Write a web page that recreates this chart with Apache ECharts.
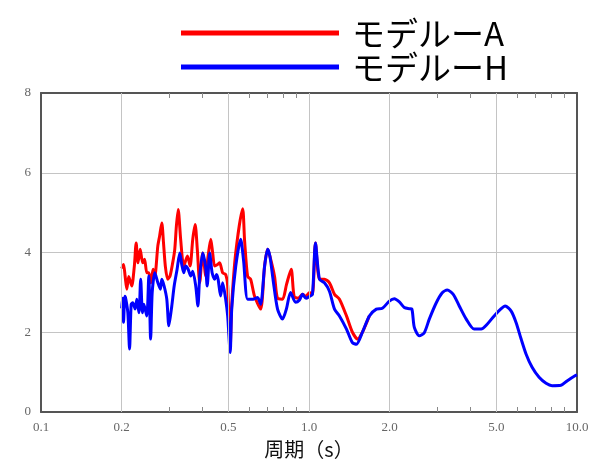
<!DOCTYPE html>
<html>
<head>
<meta charset="utf-8">
<script src="https://cdn.jsdelivr.net/npm/echarts@6/dist/echarts.min.js"></script>
<style>html,body{margin:0;padding:0;background:#fff;}#c{width:589px;height:463px;}</style>
</head>
<body>
<div id="c"></div>
<script>
// ---- data ----
const seriesNames = ['モデルーA', 'モデルーH'];
const periodsA = [0.200,0.2032,0.2060,0.2090,0.2125,0.2180,0.2230,0.2265,0.2300,0.2345,0.2395,0.2435,0.2482,0.2525,0.2569,0.2620,0.2659,0.2728,0.2770,0.2823,0.2865,0.2910,0.2970,0.3030,0.3100,0.3156,0.3200,0.3250,0.3320,0.3409,0.3520,0.3600,0.3683,0.3760,0.3830,0.3910,0.4012,0.4120,0.4200,0.4300,0.4371,0.4446,0.4560,0.4642,0.4763,0.4887,0.4972,0.5080,0.5150,0.5330,0.5654,0.5750,0.5902,0.6055,0.6266,0.6597,0.6829,0.7006,0.7150,0.7438,0.7632,0.7965,0.8245,0.8580,0.8800,0.9100,0.9458,0.975,1.004,1.030,1.057,1.094,1.142,1.192,1.245,1.299,1.380,1.452,1.520,1.582,1.680];
const valuesA = [3.6,3.7,3.41,3.08,3.4,3.16,3.66,4.24,3.74,4.08,3.74,3.83,3.49,3.49,3.24,3.58,3.41,4.16,4.41,4.74,4.24,3.66,3.33,3.41,3.74,4.08,4.66,5.08,4.33,3.66,3.91,3.66,4.33,4.7,4.08,3.24,3.99,3.41,3.9,4.33,3.99,3.66,3.7,3.74,3.49,3.45,3.16,1.6,2.7,4.0,5.1,4.3,3.4,3.33,2.9,2.58,3.66,4.08,3.9,3.4,2.85,2.83,3.2,3.58,2.9,2.85,2.95,2.9,3.0,2.95,4.24,3.33,3.33,3.24,2.95,2.83,2.41,2.0,1.83,2.0,2.41];
const periodsH = [0.200,0.2015,0.2032,0.2055,0.2073,0.2109,0.2140,0.2170,0.2200,0.2245,0.2278,0.2320,0.2355,0.2390,0.2420,0.2482,0.2525,0.2565,0.2600,0.2659,0.2730,0.2790,0.2823,0.2880,0.2947,0.3000,0.3076,0.3140,0.3220,0.3294,0.3351,0.3409,0.3467,0.3540,0.3620,0.3683,0.3779,0.3850,0.3910,0.4012,0.4110,0.4170,0.4260,0.4350,0.4446,0.4520,0.4580,0.4680,0.4763,0.4887,0.4972,0.5080,0.5150,0.5330,0.5558,0.5700,0.5902,0.6200,0.6430,0.6600,0.6829,0.7006,0.7150,0.7350,0.7632,0.7965,0.8245,0.8533,0.8907,0.9200,0.9458,0.975,1.004,1.030,1.057,1.094,1.142,1.192,1.245,1.299,1.380,1.452,1.503,1.582,1.680,1.784,1.878,1.994,2.082,2.173,2.268,2.368,2.420,2.472,2.579,2.693,2.811,2.985,3.142,3.280,3.453,3.636,3.861,4.134,4.390,4.622,4.908,5.212,5.394,5.680,5.928,6.188,6.459,6.800,7.220,7.665,8.070,8.717,9.180,9.830,10.0];
const valuesH = [2.6,2.85,2.25,2.9,2.83,2.49,1.58,2.7,2.74,2.58,2.83,2.49,3.33,2.49,2.7,2.41,3.41,1.83,3.0,3.49,3.24,3.08,3.33,3.16,2.83,2.16,2.66,3.16,3.58,3.99,3.7,3.49,3.66,3.58,3.41,3.53,3.16,2.66,3.4,3.99,3.66,3.16,3.99,3.49,3.33,3.45,3.33,2.91,3.24,2.83,2.41,1.49,2.6,3.66,4.33,3.8,2.83,2.83,2.87,2.7,3.66,4.08,3.9,3.3,2.58,2.33,2.6,3.0,2.75,2.8,2.95,2.85,2.9,2.95,4.24,3.33,3.24,3.03,2.58,2.41,2.08,1.74,1.70,2.0,2.41,2.58,2.6,2.78,2.84,2.76,2.62,2.59,2.58,2.12,1.91,1.99,2.33,2.74,2.99,3.06,2.95,2.66,2.33,2.08,2.08,2.2,2.41,2.59,2.66,2.53,2.24,1.83,1.45,1.12,0.87,0.72,0.66,0.67,0.78,0.91,0.93];
const xMajorTicks = [0.1, 0.2, 0.5, 1.0, 2.0, 5.0, 10.0];
const xTickLabels = ['0.1', '0.2', '0.5', '1.0', '2.0', '5.0', '10.0'];
const xGridTicks = [0.2, 0.5, 1.0, 2.0, 5.0];
const xMinorTicks = [0.3, 0.4, 0.6, 0.7, 0.8, 0.9, 3, 4, 6, 7, 8, 9];
const yMin = 0, yMax = 8, yStep = 2;
const xTitle = '周期（s）';

// ---- chart ----
const lg = v => Math.log10(v);
const pairs = (p, v) => p.map((t, i) => [lg(t), v[i]]);
const labelFor = v => {
  for (let i = 0; i < xMajorTicks.length; i++) if (Math.abs(lg(xMajorTicks[i]) - v) < 1e-6) return xTickLabels[i];
  return '';
};
const axisColor = '#555';
const serif = '"Liberation Serif", "DejaVu Serif", serif';

const chart = echarts.init(document.getElementById('c'), null, {renderer: 'canvas'});
chart.setOption({
  animation: false,
  backgroundColor: '#fff',
  grid: {left: 41, right: 12, top: 93, bottom: 51, containLabel: false, outerBoundsMode: 'none'},
  legend: {
    data: seriesNames,
    orient: 'vertical',
    left: 176,
    top: 11,
    icon: 'rect',
    itemWidth: 158,
    itemHeight: 5,
    itemGap: 0,
    textStyle: {fontSize: 33, color: '#000', fontFamily: '"Noto Sans CJK JP", sans-serif', padding: [0, 0, 0, 8], lineHeight: 34}
  },
  xAxis: [{
    type: 'value', min: lg(xMajorTicks[0]), max: lg(xMajorTicks[xMajorTicks.length - 1]),
    position: 'bottom',
    name: xTitle, nameLocation: 'middle', nameGap: 27,
    nameTextStyle: {fontSize: 20, color: '#111', fontFamily: '"Noto Sans CJK JP", sans-serif'},
    axisLine: {show: true, onZero: false, lineStyle: {color: axisColor, width: 2}},
    axisTick: {show: true, inside: true, length: 5, customValues: xMinorTicks.map(lg), lineStyle: {color: '#888'}},
    axisLabel: {customValues: xMajorTicks.map(lg), formatter: labelFor, fontFamily: serif, fontSize: 13, color: '#666', margin: 9},
    splitLine: {show: false}
  }, {
    type: 'value', min: lg(xMajorTicks[0]), max: lg(xMajorTicks[xMajorTicks.length - 1]),
    position: 'top',
    axisLine: {show: true, onZero: false, lineStyle: {color: axisColor, width: 2}},
    axisTick: {show: true, inside: true, length: 5, customValues: xMinorTicks.map(lg), lineStyle: {color: '#888'}},
    axisLabel: {show: false},
    splitLine: {show: false}
  }],
  yAxis: [{
    type: 'value', min: yMin, max: yMax, interval: yStep,
    axisLine: {show: true, onZero: false, lineStyle: {color: axisColor, width: 2}},
    axisTick: {show: false},
    axisLabel: {fontFamily: serif, fontSize: 13, color: '#666', margin: 10},
    splitLine: {show: true, lineStyle: {color: '#c4c4c4', width: 1}}
  }, {
    type: 'value', min: yMin, max: yMax, interval: yStep, position: 'right',
    axisLine: {show: true, onZero: false, lineStyle: {color: axisColor, width: 2}},
    axisTick: {show: false}, axisLabel: {show: false}, splitLine: {show: false}
  }],
  series: [{
    type: 'line', name: 'grid', data: [], z: 1, silent: true,
    markLine: {
      silent: true, symbol: 'none', label: {show: false},
      lineStyle: {color: '#c4c4c4', width: 1, type: 'solid'},
      data: xGridTicks.map(t => ({xAxis: lg(t)}))
    }
  }, {
    type: 'line', name: seriesNames[0], data: pairs(periodsA, valuesA),
    showSymbol: false, smooth: 0.25, z: 3,
    lineStyle: {color: '#ff0000', width: 3}, itemStyle: {color: '#ff0000'}
  }, {
    type: 'line', name: seriesNames[1], data: pairs(periodsH, valuesH),
    showSymbol: false, smooth: 0.25, z: 4,
    lineStyle: {color: '#0000ff', width: 3}, itemStyle: {color: '#0000ff'}
  }]
});
</script>
</body>
</html>
